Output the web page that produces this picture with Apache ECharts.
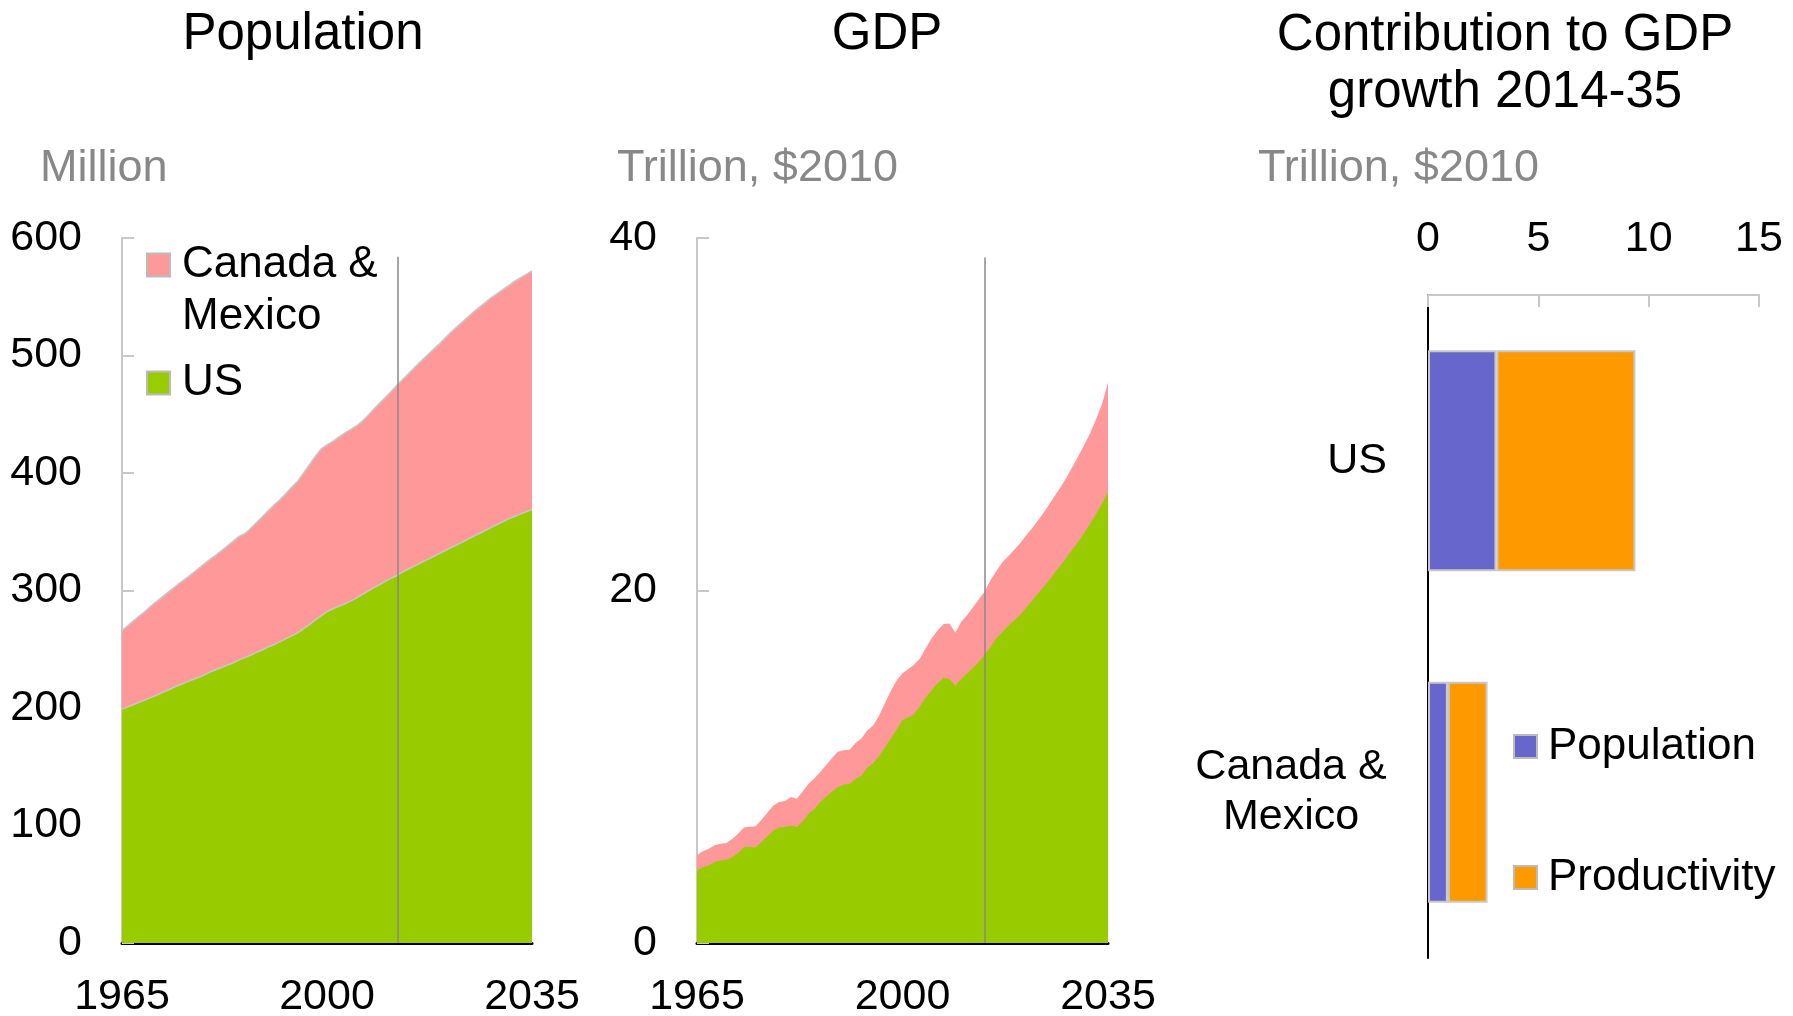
<!DOCTYPE html>
<html><head><meta charset="utf-8">
<script src="https://cdn.jsdelivr.net/npm/echarts@6/dist/echarts.min.js"></script>
<style>html,body{margin:0;padding:0;background:#fff}#c{width:1793px;height:1016px}</style>
</head><body><div id="c"></div>
<script>
const years = ['1965','1966','1967','1968','1969','1970','1971','1972','1973','1974','1975','1976','1977','1978','1979','1980','1981','1982','1983','1984','1985','1986','1987','1988','1989','1990','1991','1992','1993','1994','1995','1996','1997','1998','1999','2000','2001','2002','2003','2004','2005','2006','2007','2008','2009','2010','2011','2012','2013','2014','2015','2016','2017','2018','2019','2020','2021','2022','2023','2024','2025','2026','2027','2028','2029','2030','2031','2032','2033','2034','2035'];

// Population, million: US and total (US + Canada & Mexico, top of stack)
const popUS = [199,201,203,205,207,209,211,213.5,215.5,218,220,222,224,226,228,230.5,232.5,234.5,236.5,238.5,241,243,245,247.5,249.5,252,254,256.5,259,261.5,264,267.5,271,275,278.5,282,284.5,286.5,288.5,291,293.5,296.5,299.5,302.5,305,308,310.5,313,316,318.5,321,323.5,326,328.5,331,333.5,336,338.5,341,343.5,346,348.5,351,353.5,356,358.5,361,363,365,367,369];
const popTotal = [266,270,274.5,278.5,282.5,287,291,295,299,303,307,310.5,314.5,318.5,322.5,326.5,330,334,338,342,346,348.5,353,358,363,368,373,377.5,382.5,388,393,400,407,414,420.5,424,427,430.5,434,437,440,444,449,454.5,459.5,464.5,469.5,475,480,485,490,495,499.5,504.5,509,514,519,523.5,528,532.5,537,541,545,549,552.5,556,559.5,563,566,569,572];

// GDP, trillion $2010: US and total (US + Canada & Mexico, top of stack)
const gdpUS = [4.12,4.3,4.4,4.6,4.7,4.73,4.88,5.1,5.44,5.44,5.42,5.75,6.05,6.39,6.55,6.58,6.67,6.58,6.9,7.33,7.6,8.0,8.3,8.6,8.85,9.0,9.04,9.3,9.5,9.95,10.2,10.6,11.1,11.6,12.1,12.65,12.8,13.0,13.45,13.95,14.35,14.75,15.05,15.0,14.6,15.0,15.3,15.6,15.95,16.35,16.8,17.3,17.65,18.0,18.3,18.6,19.0,19.4,19.8,20.2,20.6,21.05,21.45,21.9,22.35,22.8,23.3,23.8,24.35,24.95,25.6];
const gdpTotal = [5.0,5.2,5.35,5.55,5.63,5.68,5.9,6.2,6.55,6.6,6.62,7.0,7.4,7.8,8.0,8.05,8.28,8.18,8.6,9.04,9.35,9.7,10.1,10.5,10.85,10.93,10.96,11.35,11.6,12.06,12.34,12.9,13.6,14.3,14.9,15.3,15.55,15.8,16.15,16.75,17.3,17.75,18.1,18.13,17.6,18.22,18.6,19.05,19.5,19.95,20.6,21.1,21.6,21.95,22.3,22.67,23.1,23.5,23.95,24.4,24.9,25.4,25.9,26.45,27.05,27.65,28.3,28.95,29.75,30.6,31.8];

// Contribution to GDP growth 2014-35, trillion $2010
const barCategories = ['Canada & Mexico', 'US'];
const contribPopulation = [0.9, 3.1];
const contribProductivity = [1.8, 6.3];

const popTicks = {min: 0, max: 600, interval: 100};
const gdpTicks = {min: 0, max: 40, interval: 20};
const barTicks = {min: 0, max: 15, interval: 5};

const FONT = '"Liberation Sans", Arial, sans-serif';
const PINK = '#FF9999', GREEN = '#99CC00', PURPLE = '#6666CC', ORANGE = '#FF9900';
const GRAYAX = '#c8c8c8';

const labelStyle = {color: '#000', fontSize: 43, fontFamily: FONT};
const titleStyle = {color: '#000', fontSize: 51, fontWeight: 'normal', fontFamily: FONT};
const unitStyle = {color: '#888', fontSize: 45, fontWeight: 'normal', fontFamily: FONT};

function lineX(grid) {
  return {
    gridIndex: grid, type: 'category', data: years, boundaryGap: false,
    axisLine: {show: true, lineStyle: {color: '#000', width: 3}},
    axisTick: {show: false},
    axisLabel: Object.assign({interval: 34, margin: 33}, labelStyle),
    splitLine: {show: false}
  };
}
function lineY(grid, t) {
  return {
    gridIndex: grid, type: 'value', min: t.min, max: t.max, interval: t.interval,
    axisLine: {show: true, lineStyle: {color: GRAYAX, width: 2}},
    axisTick: {show: true, inside: true, length: 12, lineStyle: {color: GRAYAX, width: 2}},
    axisLabel: Object.assign({margin: 40}, labelStyle),
    splitLine: {show: false}
  };
}
function vline(x, yTop) {
  return {
    symbol: 'none', silent: true, label: {show: false},
    lineStyle: {color: '#888', width: 1.5, type: 'solid'},
    data: [[{coord: [x, yTop]}, {coord: [x, 0]}]]
  };
}

const chart = echarts.init(document.getElementById('c'));
chart.setOption({
  animation: false,
  textStyle: {fontFamily: FONT},
  title: [
    {text: 'Population', left: 303, top: 9, padding: 0, textAlign: 'center', textStyle: titleStyle},
    {text: 'GDP', left: 887, top: 9, padding: 0, textAlign: 'center', textStyle: titleStyle},
    {text: 'Contribution to GDP\ngrowth 2014-35', left: 1505, top: 7, padding: 0, textAlign: 'center', textStyle: Object.assign({lineHeight: 57}, titleStyle)},
    {text: 'Million', left: 40, top: 146, padding: 0, textStyle: unitStyle},
    {text: 'Trillion, $2010', left: 617, top: 146, padding: 0, textStyle: unitStyle},
    {text: 'Trillion, $2010', left: 1258, top: 146, padding: 0, textStyle: unitStyle}
  ],
  legend: [
    {
      orient: 'vertical', left: 141, top: 182, itemWidth: 23, itemHeight: 23, itemGap: 14, icon: 'rect',
      itemStyle: {borderColor: '#bbb', borderWidth: 2},
      textStyle: {fontSize: 44, color: '#000', fontFamily: FONT, lineHeight: 52, padding: [0, 0, 0, 7]},
      formatter: n => n === 'Canada & Mexico' ? ' \nCanada &\nMexico' : n,
      selectedMode: false,
      data: [
        {name: 'Canada & Mexico', itemStyle: {color: PINK}},
        {name: 'US', itemStyle: {color: GREEN}}
      ]
    },
    {
      orient: 'vertical', left: 1508, top: 716, itemWidth: 23, itemHeight: 23, itemGap: 80, icon: 'rect',
      itemStyle: {borderColor: '#bbb', borderWidth: 2},
      textStyle: {fontSize: 44, color: '#000', fontFamily: FONT, lineHeight: 51, padding: [0, 0, 0, 6]},
      selectedMode: false,
      data: [
        {name: 'Population', itemStyle: {color: PURPLE}},
        {name: 'Productivity', itemStyle: {color: ORANGE}}
      ]
    }
  ],
  grid: [
    {left: 122, top: 238, width: 410, height: 705, outerBoundsMode: 'none', containLabel: false},
    {left: 697, top: 238, width: 411, height: 705, outerBoundsMode: 'none', containLabel: false},
    {left: 1428, top: 295, width: 331, height: 663, outerBoundsMode: 'none', containLabel: false}
  ],
  xAxis: [
    lineX(0), lineX(1),
    {
      gridIndex: 2, type: 'value', position: 'top', min: barTicks.min, max: barTicks.max, interval: barTicks.interval,
      axisLine: {show: true, lineStyle: {color: GRAYAX, width: 2}},
      axisTick: {show: true, inside: true, length: 12, lineStyle: {color: GRAYAX, width: 2}},
      axisLabel: Object.assign({margin: 34}, labelStyle),
      splitLine: {show: false}
    }
  ],
  yAxis: [
    lineY(0, popTicks), lineY(1, gdpTicks),
    {
      gridIndex: 2, type: 'category', data: barCategories,
      axisLine: {show: true, lineStyle: {color: '#000', width: 2}},
      axisTick: {show: false},
      axisLabel: {
        margin: 41,
        formatter: v => v === 'US' ? '{r|US}' : '{c|Canada &}\n{c|Mexico}',
        rich: {
          r: {fontSize: 43, color: '#000', fontFamily: FONT, lineHeight: 50},
          c: {fontSize: 43, color: '#000', fontFamily: FONT, lineHeight: 50, width: 192, align: 'center'}
        }
      },
      splitLine: {show: false}
    }
  ],
  series: [
    {
      type: 'line', name: 'Canada & Mexico', xAxisIndex: 0, yAxisIndex: 0, data: popTotal,
      symbol: 'none', lineStyle: {color: GRAYAX, width: 1.5}, itemStyle: {color: PINK},
      areaStyle: {color: PINK, opacity: 1}, z: 2
    },
    {
      type: 'line', name: 'US', xAxisIndex: 0, yAxisIndex: 0, data: popUS,
      symbol: 'none', lineStyle: {color: GRAYAX, width: 1.5}, itemStyle: {color: GREEN},
      areaStyle: {color: GREEN, opacity: 1}, z: 3,
      markLine: vline(47.2, 584)
    },
    {
      type: 'line', name: 'Canada & Mexico', xAxisIndex: 1, yAxisIndex: 1, data: gdpTotal,
      symbol: 'none', lineStyle: {width: 0}, itemStyle: {color: PINK},
      areaStyle: {color: PINK, opacity: 1}, z: 2
    },
    {
      type: 'line', name: 'US', xAxisIndex: 1, yAxisIndex: 1, data: gdpUS,
      symbol: 'none', lineStyle: {width: 0}, itemStyle: {color: GREEN},
      areaStyle: {color: GREEN, opacity: 1}, z: 3,
      markLine: vline(49.3, 38.9)
    },
    {
      type: 'bar', name: 'Population', xAxisIndex: 2, yAxisIndex: 2, stack: 'contrib',
      data: contribPopulation, barWidth: 221,
      itemStyle: {color: PURPLE, borderColor: GRAYAX, borderWidth: 2}
    },
    {
      type: 'bar', name: 'Productivity', xAxisIndex: 2, yAxisIndex: 2, stack: 'contrib',
      data: contribProductivity, barWidth: 221,
      itemStyle: {color: ORANGE, borderColor: GRAYAX, borderWidth: 2}
    }
  ]
});
</script>
</body></html>
